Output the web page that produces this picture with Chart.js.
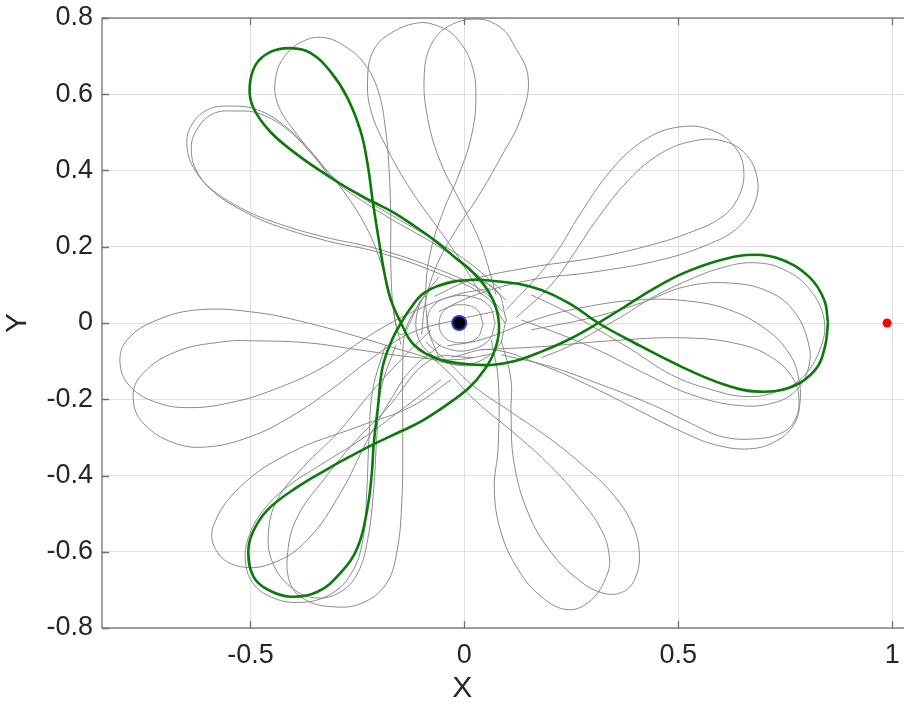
<!DOCTYPE html>
<html>
<head>
<meta charset="utf-8">
<script src="https://cdn.jsdelivr.net/npm/chart.js@4/dist/chart.umd.min.js"></script>
<style>
html, body { margin: 0; padding: 0; background: #fff; overflow: hidden; }
#wrap { width: 914px; height: 704px; }
</style>
</head>
<body>
<div id="wrap"><canvas id="orbit" width="914" height="704"></canvas></div>
<script>
// axis ticks
const xTicks = [-0.5, 0, 0.5, 1];
const yTicks = [-0.8, -0.6, -0.4, -0.2, 0, 0.2, 0.4, 0.6, 0.8];

// primaries (rotating frame)
const earth = [[-0.012, 0]];
const moon = [[0.988, 0]];

// green periodic orbit
const greenOrbit = [
[0.850,0.000],[0.841,0.061],[0.806,0.121],[0.742,0.166],[0.679,0.179],[0.602,0.166],[0.515,0.132],[0.438,0.087],[0.374,0.042],[0.313,0.000],
[0.243,-0.044],[0.180,-0.075],[0.121,-0.099],[0.063,-0.110],[-0.001,-0.107],[-0.062,-0.094],[-0.118,-0.057],[-0.148,0.000],[-0.172,0.061],[-0.186,0.126],
[-0.200,0.218],[-0.214,0.318],[-0.226,0.415],[-0.242,0.501],[-0.273,0.590],[-0.312,0.658],[-0.359,0.708],[-0.406,0.721],[-0.453,0.711],[-0.488,0.677],
[-0.502,0.617],[-0.493,0.564],[-0.453,0.501],[-0.390,0.441],[-0.312,0.381],[-0.266,0.349],[-0.214,0.318],[-0.167,0.291],[-0.120,0.257],[-0.071,0.218],
[-0.024,0.174],[0.016,0.137],[0.051,0.092],[0.074,0.040],[0.081,-0.018],[0.070,-0.075],[0.046,-0.124],[0.011,-0.170],[-0.043,-0.216],[-0.101,-0.258],
[-0.148,-0.284],[-0.214,-0.319],[-0.267,-0.350],[-0.320,-0.383],[-0.390,-0.430],[-0.460,-0.490],[-0.495,-0.550],[-0.505,-0.602],[-0.493,-0.665],[-0.460,-0.699],
[-0.406,-0.718],[-0.343,-0.705],[-0.289,-0.655],[-0.249,-0.587],[-0.226,-0.482],[-0.216,-0.390],[-0.212,-0.319],[-0.202,-0.220],[-0.191,-0.115],[-0.169,-0.044],
[-0.148,0.000],[-0.125,0.040],[-0.094,0.079],[-0.038,0.105],[0.016,0.113],[0.063,0.111],[0.156,0.095],[0.243,0.053],[0.313,0.000],[0.384,-0.044],
[0.508,-0.115],[0.609,-0.162],[0.688,-0.180],[0.766,-0.167],[0.820,-0.123],[0.843,-0.062],[0.850,0.000]
];

// grey perturbed trajectory, lobe by lobe
const greyUpperLeft1 = [[0.086,0.087],[0.009,0.160],[-0.071,0.218],[-0.172,0.284],[-0.249,0.336],[-0.312,0.388],[-0.366,0.459],[-0.423,0.520],[-0.483,0.559],[-0.540,0.569],[-0.601,0.559],[-0.641,0.512],[-0.648,0.459],[-0.633,0.407],[-0.594,0.354],[-0.523,0.302],[-0.446,0.265],[-0.329,0.226],[-0.212,0.197],[-0.071,0.145],[0.039,0.087],[0.090,0.030]];
const greyUpperLeft2 = [[0.098,0.060],[0.016,0.139],[-0.062,0.202],[-0.164,0.268],[-0.241,0.322],[-0.305,0.375],[-0.359,0.446],[-0.413,0.507],[-0.476,0.548],[-0.530,0.556],[-0.589,0.548],[-0.629,0.500],[-0.638,0.448],[-0.624,0.395],[-0.584,0.342],[-0.514,0.292],[-0.437,0.254],[-0.320,0.215],[-0.203,0.186],[-0.062,0.131],[0.051,0.068],[0.095,0.000]];
const greyTop1 = [[-0.060,0.120],[-0.101,0.061],[-0.148,-0.031],[-0.172,0.069],[-0.195,0.158],[-0.226,0.244],[-0.273,0.331],[-0.336,0.420],[-0.399,0.506],[-0.437,0.577],[-0.441,0.643],[-0.418,0.703],[-0.371,0.742],[-0.324,0.748],[-0.277,0.724],[-0.235,0.682],[-0.202,0.611],[-0.184,0.506],[-0.176,0.402],[-0.172,0.278],[-0.172,0.158],[-0.165,0.027],[-0.148,-0.057]];
const greyTop2 = [[0.039,0.074],[-0.015,0.174],[-0.071,0.263],[-0.125,0.349],[-0.179,0.454],[-0.219,0.559],[-0.226,0.645],[-0.214,0.711],[-0.179,0.755],[-0.109,0.787],[-0.055,0.776],[-0.019,0.748],[0.016,0.682],[0.027,0.593],[0.016,0.488],[-0.015,0.383],[-0.048,0.297],[-0.078,0.192],[-0.090,0.087],[-0.083,-0.018],[-0.060,-0.090]];
const greyTop3 = [[0.074,0.074],[0.056,0.147],[0.032,0.226],[-0.008,0.315],[-0.055,0.420],[-0.085,0.533],[-0.094,0.645],[-0.078,0.729],[-0.036,0.779],[0.032,0.797],[0.086,0.774],[0.116,0.729],[0.149,0.645],[0.133,0.540],[0.086,0.436],[0.032,0.331],[-0.015,0.252],[-0.062,0.158],[-0.090,0.061],[-0.100,-0.030]];
const greyUpperRight1 = [[0.098,0.035],[0.180,0.134],[0.227,0.205],[0.266,0.278],[0.344,0.402],[0.421,0.480],[0.501,0.514],[0.578,0.506],[0.632,0.462],[0.653,0.402],[0.641,0.331],[0.602,0.278],[0.524,0.236],[0.421,0.200],[0.304,0.171],[0.149,0.145],[0.016,0.113],[-0.070,0.070]];
const greyUpperRight2 = [[0.121,0.014],[0.203,0.100],[0.262,0.192],[0.304,0.263],[0.384,0.375],[0.461,0.446],[0.538,0.478],[0.602,0.478],[0.655,0.446],[0.684,0.383],[0.679,0.315],[0.641,0.252],[0.578,0.210],[0.461,0.166],[0.304,0.134],[0.156,0.113],[0.027,0.074],[-0.060,0.030]];
const greyRight1 = [[0.180,-0.091],[0.243,-0.062],[0.313,-0.018],[0.374,0.021],[0.438,0.066],[0.515,0.108],[0.602,0.145],[0.679,0.158],[0.749,0.139],[0.808,0.087],[0.841,0.008],[0.831,-0.070],[0.789,-0.144],[0.730,-0.180],[0.660,-0.193],[0.578,-0.175],[0.484,-0.136],[0.391,-0.070],[0.313,-0.018],[0.243,0.027],[0.156,0.074]];
const greyRight2 = [[0.156,-0.018],[0.297,0.014],[0.414,0.053],[0.515,0.095],[0.618,0.105],[0.712,0.082],[0.773,0.027],[0.806,-0.062],[0.803,-0.123],[0.777,-0.175],[0.730,-0.207],[0.648,-0.217],[0.531,-0.188],[0.414,-0.128],[0.320,-0.075],[0.227,-0.031],[0.133,0.008]];
const greyLowerRight1 = [[-0.040,-0.060],[0.039,-0.044],[0.180,0.014],[0.297,0.045],[0.414,0.061],[0.520,0.058],[0.618,0.035],[0.707,-0.018],[0.761,-0.083],[0.782,-0.149],[0.784,-0.214],[0.770,-0.267],[0.730,-0.309],[0.667,-0.330],[0.585,-0.319],[0.508,-0.285],[0.414,-0.233],[0.297,-0.167],[0.180,-0.110],[0.063,-0.070],[-0.030,-0.090]];
const greyLowerRight2 = [[0.039,-0.070],[0.180,-0.062],[0.337,-0.047],[0.515,-0.039],[0.648,-0.057],[0.726,-0.096],[0.770,-0.149],[0.782,-0.201],[0.773,-0.254],[0.742,-0.288],[0.679,-0.304],[0.602,-0.298],[0.531,-0.264],[0.438,-0.214],[0.320,-0.162],[0.203,-0.115],[0.086,-0.083]];
const greyBottom1 = [[0.063,-0.044],[0.079,-0.149],[0.079,-0.325],[0.070,-0.437],[0.086,-0.550],[0.126,-0.647],[0.180,-0.718],[0.243,-0.752],[0.297,-0.726],[0.332,-0.665],[0.339,-0.613],[0.320,-0.542],[0.266,-0.456],[0.203,-0.377],[0.126,-0.298],[0.023,-0.201],[-0.043,-0.123],[-0.100,-0.070]];
const greyBottom2 = [[0.086,-0.044],[0.109,-0.149],[0.109,-0.235],[0.116,-0.366],[0.149,-0.498],[0.203,-0.602],[0.266,-0.673],[0.320,-0.707],[0.367,-0.707],[0.398,-0.673],[0.409,-0.602],[0.391,-0.524],[0.344,-0.445],[0.281,-0.377],[0.203,-0.306],[0.102,-0.228],[0.023,-0.167],[-0.031,-0.110],[-0.090,-0.050]];
const greyLowerLeft1 = [[-0.101,0.061],[-0.137,-0.018],[-0.144,-0.115],[-0.144,-0.288],[-0.146,-0.463],[-0.158,-0.602],[-0.184,-0.686],[-0.242,-0.736],[-0.312,-0.744],[-0.371,-0.726],[-0.406,-0.686],[-0.413,-0.602],[-0.390,-0.508],[-0.329,-0.411],[-0.258,-0.314],[-0.184,-0.228],[-0.078,-0.096],[0.020,-0.090]];
const greyLowerLeft2 = [[-0.078,-0.018],[-0.148,-0.096],[-0.226,-0.193],[-0.296,-0.288],[-0.376,-0.377],[-0.437,-0.463],[-0.458,-0.550],[-0.448,-0.629],[-0.406,-0.692],[-0.348,-0.721],[-0.289,-0.705],[-0.249,-0.655],[-0.226,-0.568],[-0.212,-0.437],[-0.205,-0.306],[-0.195,-0.175],[-0.160,-0.057]];
const greyLowerLeft3 = [[-0.055,-0.149],[-0.148,-0.228],[-0.242,-0.306],[-0.336,-0.372],[-0.413,-0.429],[-0.469,-0.490],[-0.502,-0.555],[-0.512,-0.620],[-0.495,-0.681],[-0.453,-0.718],[-0.390,-0.733],[-0.319,-0.715],[-0.266,-0.660],[-0.237,-0.568],[-0.228,-0.437],[-0.223,-0.306],[-0.214,-0.175],[-0.184,-0.057]];
const greyLowerLeft4 = [[-0.031,-0.149],[-0.125,-0.220],[-0.249,-0.272],[-0.406,-0.340],[-0.523,-0.429],[-0.587,-0.534],[-0.577,-0.602],[-0.523,-0.639],[-0.446,-0.629],[-0.366,-0.568],[-0.289,-0.445],[-0.226,-0.306],[-0.172,-0.201],[-0.125,-0.123],[-0.055,-0.057]];
const greyLeft1 = [[0.060,0.090],[-0.019,0.074],[-0.125,0.027],[-0.226,-0.036],[-0.329,-0.115],[-0.446,-0.175],[-0.547,-0.209],[-0.641,-0.222],[-0.718,-0.209],[-0.781,-0.167],[-0.805,-0.104],[-0.788,-0.044],[-0.718,0.008],[-0.617,0.035],[-0.483,0.027],[-0.366,0.000],[-0.249,-0.036],[-0.125,-0.078],[-0.019,-0.110],[0.060,-0.110]];
const greyLeft2 = [[0.070,0.030],[-0.019,0.008],[-0.125,-0.026],[-0.212,-0.089],[-0.312,-0.175],[-0.406,-0.246],[-0.500,-0.298],[-0.601,-0.325],[-0.680,-0.314],[-0.751,-0.262],[-0.774,-0.201],[-0.758,-0.141],[-0.680,-0.078],[-0.563,-0.049],[-0.483,-0.047],[-0.366,-0.052],[-0.249,-0.070],[-0.125,-0.089],[-0.019,-0.096],[0.070,-0.080]];
const greyRing1 = [[0.072,0.000],[0.058,0.045],[0.016,0.069],[-0.031,0.069],[-0.073,0.045],[-0.087,0.000],[-0.073,-0.044],[-0.031,-0.070],[0.016,-0.070],[0.058,-0.044],[0.072,0.000]];
const greyRing2 = [[0.044,-0.002],[0.030,0.035],[-0.008,0.048],[-0.045,0.035],[-0.059,-0.002],[-0.045,-0.039],[-0.008,-0.052],[0.030,-0.039],[0.044,-0.002]];
const greyRing3 = [[0.098,0.008],[0.074,0.087],[0.004,0.113],[-0.078,0.087],[-0.113,0.008],[-0.090,-0.070],[-0.008,-0.110],[0.074,-0.070],[0.098,0.008]];

const greyCurves = [greyUpperLeft1, greyUpperLeft2, greyTop1, greyTop2, greyTop3, greyUpperRight1, greyUpperRight2,
  greyRight1, greyRight2, greyLowerRight1, greyLowerRight2, greyBottom1, greyBottom2, greyLowerLeft1, greyLowerLeft2,
  greyLowerLeft3, greyLowerLeft4, greyLeft1, greyLeft2, greyRing1, greyRing2, greyRing3];

const toPts = arr => arr.map(p => ({x: p[0], y: p[1]}));
const fontFamily = '"Liberation Sans", Arial, Helvetica, sans-serif';
const inkColor = '#262626';

let datasets = [];
datasets.push({label: 'Earth', data: toPts(earth), showLine: false, pointRadius: 7, pointBackgroundColor: '#000', pointBorderColor: '#3434c4', pointBorderWidth: 2, order: 0});
datasets.push({label: 'Moon', data: toPts(moon), showLine: false, pointRadius: 4.5, pointBackgroundColor: '#ff0000', pointBorderColor: '#ff0000', pointBorderWidth: 0, order: 0});
datasets.push({label: 'orbit', data: toPts(greenOrbit), showLine: true, borderColor: '#0b7a0b', borderWidth: 2.6, pointRadius: 0, tension: 0.4, order: 1});
greyCurves.forEach(c => {
  datasets.push({data: toPts(c), showLine: true, borderColor: '#8a8a8a', borderWidth: 1, pointRadius: 0, tension: 0.4, order: 2});
});

const boxPlugin = {
  id: 'box',
  afterDraw(chart) {
    const ctx = chart.ctx, a = chart.chartArea, x = chart.scales.x, y = chart.scales.y;
    ctx.save();
    ctx.strokeStyle = '#707070';
    ctx.lineWidth = 1.3;
    ctx.strokeRect(a.left, a.top, a.right - a.left, a.bottom - a.top);
    ctx.beginPath();
    xTicks.forEach(v => {
      const px = Math.round(x.getPixelForValue(v)) + 0.5;
      ctx.moveTo(px, a.bottom); ctx.lineTo(px, a.bottom - 7);
      ctx.moveTo(px, a.top); ctx.lineTo(px, a.top + 7);
    });
    yTicks.forEach(v => {
      const py = Math.round(y.getPixelForValue(v)) + 0.5;
      ctx.moveTo(a.left, py); ctx.lineTo(a.left + 7, py);
      ctx.moveTo(a.right, py); ctx.lineTo(a.right - 7, py);
    });
    ctx.stroke();
    ctx.fillStyle = inkColor;
    ctx.font = '30px ' + fontFamily;
    ctx.textAlign = 'center';
    ctx.textBaseline = 'middle';
    ctx.fillText('X', x.getPixelForValue(0) - 2, 689);
    ctx.translate(18, (a.top + a.bottom) / 2);
    ctx.rotate(-Math.PI / 2);
    ctx.fillText('Y', 0, 0);
    ctx.restore();
  }
};

new Chart(document.getElementById('orbit'), {
  type: 'scatter',
  data: {datasets: datasets},
  options: {
    responsive: false,
    animation: false,
    events: [],
    layout: {autoPadding: false, padding: {left: 0, right: 3, top: 18, bottom: 0}},
    plugins: {legend: {display: false}, tooltip: {enabled: false}},
    scales: {
      x: {
        type: 'linear', min: -0.847, max: 1.044,
        afterBuildTicks: s => { s.ticks = xTicks.map(v => ({value: v})); },
        afterFit: s => { s.height = 76; s.paddingLeft = 0; s.paddingRight = 0; },
        grid: {color: '#e0e0e0', lineWidth: 1, drawTicks: false},
        border: {display: false},
        ticks: {color: inkColor, font: {family: fontFamily, size: 27}, padding: 11, maxRotation: 0,
          callback: v => String(Math.round(v * 10) / 10)}
      },
      y: {
        type: 'linear', min: -0.8, max: 0.8,
        afterBuildTicks: s => { s.ticks = yTicks.map(v => ({value: v})); },
        afterFit: s => { s.width = 102; s.paddingTop = 0; s.paddingBottom = 0; },
        grid: {color: '#e0e0e0', lineWidth: 1, drawTicks: false},
        border: {display: false},
        ticks: {color: inkColor, font: {family: fontFamily, size: 27}, padding: 9,
          callback: v => String(Math.round(v * 10) / 10)}
      }
    }
  },
  plugins: [boxPlugin]
});
</script>
</body>
</html>
